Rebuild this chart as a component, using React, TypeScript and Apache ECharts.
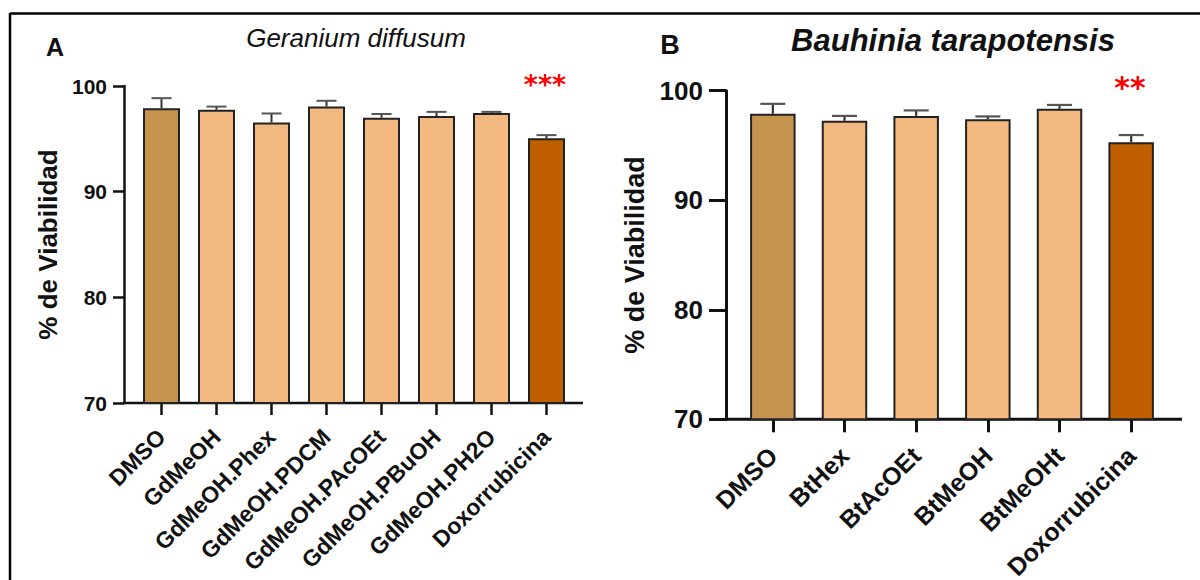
import React, { useEffect, useRef } from "react";
import * as echarts from "echarts";

// ---------- data ----------
const catsA = [
  "DMSO",
  "GdMeOH",
  "GdMeOH.Phex",
  "GdMeOH.PDCM",
  "GdMeOH.PAcOEt",
  "GdMeOH.PBuOH",
  "GdMeOH.PH2O",
  "Doxorrubicina",
];
const meanA = [97.9, 97.75, 96.55, 98.05, 97.0, 97.15, 97.45, 95.05];
const errA = [0.95, 0.3, 0.85, 0.55, 0.35, 0.4, 0.1, 0.3];

const catsB = ["DMSO", "BtHex", "BtAcOEt", "BtMeOH", "BtMeOHt", "Doxorrubicina"];
const meanB = [97.9, 97.25, 97.7, 97.4, 98.35, 95.3];
const errB = [0.9, 0.45, 0.5, 0.25, 0.35, 0.65];

const yMin = 70;
const yMax = 100;
const yStep = 10;

const titleA = "Geranium diffusum";
const titleB = "Bauhinia tarapotensis";
const yName = "% de Viabilidad";
const starsA = "***";
const starsB = "**";

// ---------- styles ----------
const FONT = "Liberation Sans, Arial, sans-serif";
const C_DMSO = "#C4944F";
const C_EXT = "#F2B880";
const C_DOXO = "#BF5F00";
const INK = "#111";

function barColor(i: number, n: number) {
  if (i === 0) return C_DMSO;
  if (i === n - 1) return C_DOXO;
  return C_EXT;
}

function errSeries(cats: string[], mean: number[], err: number[], idx: number, capHalf: number, lw: number) {
  return {
    type: "custom",
    xAxisIndex: idx,
    yAxisIndex: idx,
    z: 5,
    renderItem: (params: any, api: any) => {
      const x = api.value(0);
      const m = api.value(1);
      const e = api.value(2);
      const b = api.coord([x, m]);
      const t = api.coord([x, m + e]);
      return {
        type: "group",
        children: [
          {
            type: "line",
            shape: { x1: b[0], y1: b[1], x2: t[0], y2: t[1] },
            style: { stroke: "#333", lineWidth: lw },
          },
          {
            type: "line",
            shape: { x1: t[0] - capHalf, y1: t[1], x2: t[0] + capHalf, y2: t[1] },
            style: { stroke: "#555", lineWidth: lw },
          },
        ],
      };
    },
    data: cats.map((c, i) => [i, mean[i], err[i]]),
  };
}

function buildOption() {
  const gridA = { left: 134, top: 86, width: 440, height: 317, outerBoundsMode: "none", containLabel: false };
  const gridB = { left: 737, top: 90.7, width: 430, height: 328.6, outerBoundsMode: "none", containLabel: false };

  const yAxisCommon = (offset: number, fs: number, lw: number, tick: number, margin: number, nameGap: number, nameFs: number, gi: number) => ({
    type: "value",
    gridIndex: gi,
    min: yMin,
    max: yMax,
    interval: yStep,
    offset,
    axisLine: { show: true, lineStyle: { color: INK, width: lw } },
    axisTick: { show: true, length: tick, lineStyle: { color: INK, width: lw } },
    splitLine: { show: false },
    axisLabel: { fontFamily: FONT, fontWeight: "bold", fontSize: fs, color: INK, margin },
    name: yName,
    nameLocation: "middle",
    nameGap,
    nameRotate: 90,
    nameTextStyle: { fontFamily: FONT, fontWeight: "bold", fontSize: nameFs, color: INK },
  });

  const xAxisCommon = (cats: string[], gi: number, fs: number, lw: number, tick: number, margin: number) => ({
    type: "category",
    gridIndex: gi,
    data: cats,
    axisLine: { show: false },
    axisTick: { show: true, alignWithLabel: true, length: tick, lineStyle: { color: INK, width: lw } },
    axisLabel: { rotate: 45, interval: 0, fontFamily: FONT, fontWeight: "bold", fontSize: fs, color: INK, margin },
  });

  const barSeries = (cats: string[], mean: number[], idx: number, bw: number) => ({
    type: "bar",
    xAxisIndex: idx,
    yAxisIndex: idx,
    barWidth: bw,
    z: 2,
    data: mean.map((v, i) => ({
      value: v,
      itemStyle: { color: barColor(i, cats.length), borderColor: "#222", borderWidth: 2 },
    })),
  });

  const txt = (text: string, x: number, y: number, fs: number, opts: any = {}) => ({
    type: "text",
    x,
    y,
    style: {
      text,
      fontFamily: opts.family || FONT,
      fontSize: fs,
      fontWeight: opts.weight || "bold",
      fontStyle: opts.style || "normal",
      fill: opts.fill || INK,
      align: opts.align || "center",
      verticalAlign: "middle",
      textAlign: opts.align || "center",
      textVerticalAlign: "middle",
    },
  });

  return {
    animation: false,
    backgroundColor: "#fff",
    grid: [gridA, gridB],
    xAxis: [xAxisCommon(catsA, 0, 23, 2.5, 12, 30), xAxisCommon(catsB, 1, 25, 3, 13, 32)],
    yAxis: [
      yAxisCommon(10, 21, 2.5, 11, 17, 63, 26, 0),
      yAxisCommon(11, 26, 3, 17, 23, 78, 27, 1),
    ],
    series: [
      barSeries(catsA, meanA, 0, 37),
      errSeries(catsA, meanA, errA, 0, 10, 2),
      barSeries(catsB, meanB, 1, 45.5),
      errSeries(catsB, meanB, errB, 1, 12.5, 2.2),
    ],
    graphic: [
      // frame
      { type: "line", shape: { x1: 10, y1: 13.5, x2: 1200, y2: 13.5 }, style: { stroke: "#000", lineWidth: 2.5 } },
      { type: "line", shape: { x1: 10, y1: 13, x2: 10, y2: 580 }, style: { stroke: "#000", lineWidth: 2.5 } },
      // x axis lines (extend past the category bands)
      { type: "line", shape: { x1: 124, y1: 403, x2: 583, y2: 403 }, style: { stroke: INK, lineWidth: 2.5 } },
      { type: "line", shape: { x1: 726, y1: 419.3, x2: 1182, y2: 419.3 }, style: { stroke: INK, lineWidth: 3 } },
      // panel letters and titles
      txt("A", 55, 47, 25),
      txt("B", 670, 45, 27),
      txt(titleA, 356, 38, 26, { weight: "normal", style: "italic", fill: "#111" }),
      txt(titleB, 953, 40, 31, { weight: "bold", style: "italic", fill: "#111" }),
      // significance stars
      txt(starsA, 545, 84, 27, { family: "DejaVu Sans", fill: "#ff0000" }),
      txt(starsB, 1130, 87, 30, { family: "DejaVu Sans", fill: "#ff0000" }),
    ],
  };
}

export default function App() {
  const ref = useRef<HTMLDivElement>(null);
  useEffect(() => {
    document.body.style.margin = "0";
    const chart = echarts.init(ref.current!, null, { renderer: "svg" });
    chart.setOption(buildOption() as any);
    return () => chart.dispose();
  }, []);
  return <div ref={ref} style={{ width: 1200, height: 580 }} />;
}
